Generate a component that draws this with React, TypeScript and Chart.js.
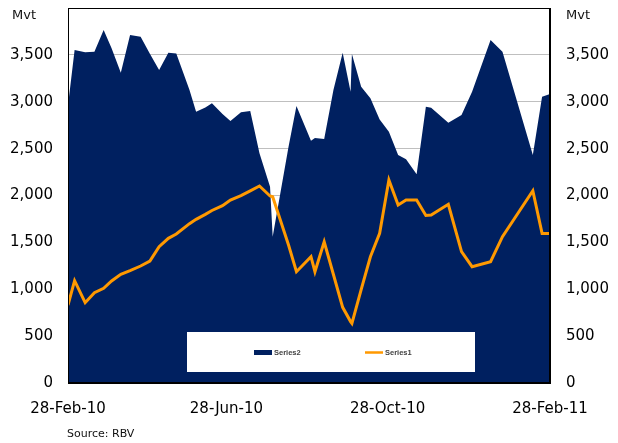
import React, { useEffect, useRef } from 'react';
import { Chart, registerables } from 'chart.js';

Chart.register(...registerables);

// ---- data ----
const DATES = [
  '2010-02-28', '2010-03-05', '2010-03-13', '2010-03-20', '2010-03-27', '2010-04-02',
  '2010-04-09', '2010-04-16', '2010-04-24', '2010-05-01', '2010-05-08', '2010-05-15',
  '2010-05-21', '2010-05-31', '2010-06-05', '2010-06-12', '2010-06-17', '2010-06-25',
  '2010-07-01', '2010-07-09', '2010-07-16', '2010-07-23', '2010-07-31', '2010-08-02',
  '2010-08-14', '2010-08-20', '2010-08-31', '2010-09-03', '2010-09-10', '2010-09-17',
  '2010-09-24', '2010-09-30', '2010-10-01', '2010-10-08', '2010-10-15', '2010-10-22',
  '2010-10-29', '2010-11-05', '2010-11-11', '2010-11-19', '2010-11-26', '2010-11-30',
  '2010-12-13', '2010-12-23', '2010-12-31', '2011-01-14', '2011-01-23', '2011-02-15',
  '2011-02-22', '2011-02-28',
];

const SERIES2 = [
  2960, 3552, 3527, 3534, 3765, 3571,
  3310, 3712, 3694, 3513, 3339, 3523,
  3516, 3125, 2894, 2940, 2985, 2870,
  2795, 2887, 2901, 2450, 2094, 1560,
  2520, 2955, 2585, 2613, 2603, 3125,
  3523, 3108, 3509, 3161, 3037, 2812,
  2681, 2432, 2386, 2226, 2947, 2937,
  2777, 2859, 3108, 3659, 3534, 2432,
  3054, 3083,
];

const SERIES1 = [
  832, 1091, 857, 963, 1010, 1088,
  1159, 1198, 1248, 1301, 1454, 1543,
  1589, 1700, 1746, 1799, 1840, 1891,
  1952, 1998, 2049, 2101, 1995, 1987,
  1472, 1187, 1347, 1187, 1507, 1157,
  807, 655, 636, 997, 1347, 1596,
  2165, 1899, 1952, 1952, 1787, 1792,
  1906, 1401, 1241, 1294, 1561, 2051,
  1596, 1596,
];

const SERIES_NAMES = ['Series2', 'Series1'];
const TICK_DATES = ['2010-02-28', '2010-06-28', '2010-10-28', '2011-02-28'];
const TICK_LABELS = ['28-Feb-10', '28-Jun-10', '28-Oct-10', '28-Feb-11'];
const Y_MIN = 0;
const Y_MAX = 4000;
const Y_STEP = 500;
const UNIT = 'Mvt';
const SOURCE = 'Source: RBV';

// ---- styles ----
const NAVY = '#002060';
const ORANGE = '#FF9900';
const FONT = 'DejaVu Sans';

const BASE = Date.UTC(2010, 1, 28);
const dayOf = (s: string) => {
  const [y, m, d] = s.split('-').map(Number);
  return Math.round((Date.UTC(y, m - 1, d) - BASE) / 86400000);
};

const fmt = (v: number) => (v >= Y_MAX ? '' : Number(v).toLocaleString('en-US'));

const decorPlugin = {
  id: 'decor',
  afterDraw(chart: any) {
    const { ctx, chartArea } = chart;
    ctx.save();
    // legend box
    ctx.fillStyle = '#FFFFFF';
    ctx.fillRect(187, 332, 288, 40);
    ctx.fillStyle = NAVY;
    ctx.fillRect(254, 350, 18, 5);
    ctx.strokeStyle = ORANGE;
    ctx.lineWidth = 2.5;
    ctx.beginPath();
    ctx.moveTo(365, 352.5);
    ctx.lineTo(383, 352.5);
    ctx.stroke();
    ctx.fillStyle = '#404040';
    ctx.font = `bold 7.5px "Liberation Sans"`;
    ctx.textBaseline = 'middle';
    ctx.textAlign = 'left';
    ctx.fillText(SERIES_NAMES[0], 274, 353);
    ctx.fillText(SERIES_NAMES[1], 385, 353);

    // plot border
    ctx.strokeStyle = '#000000';
    ctx.lineWidth = 1;
    const l = Math.round(chartArea.left) + 0.5;
    const t = Math.round(chartArea.top) + 0.5;
    const r = Math.round(chartArea.right) - 0.5;
    const b = Math.round(chartArea.bottom) - 0.5;
    ctx.strokeRect(l, t, r - l, b - t);

    // unit labels
    ctx.fillStyle = '#111111';
    ctx.font = `13px "${FONT}"`;
    ctx.textBaseline = 'middle';
    ctx.textAlign = 'left';
    ctx.fillText(UNIT, 12, 16);
    ctx.fillText(UNIT, 566, 16);

    // source
    ctx.font = `11px "${FONT}"`;
    ctx.fillText(SOURCE, 67, 434);
    ctx.restore();
  },
};

export default function App() {
  const ref = useRef<HTMLCanvasElement | null>(null);

  useEffect(() => {
    if (!ref.current) return;
    const tickFont = { family: FONT, size: 15 };
    const yTicks = {
      stepSize: Y_STEP,
      callback: (v: any) => fmt(v),
      font: tickFont,
      color: '#000000',
      padding: 15,
    };
    const fitY = (scale: any) => {
      scale.width = 68;
      scale.paddingTop = 0;
      scale.paddingBottom = 0;
    };
    const chart = new Chart(ref.current, {
      type: 'line',
      data: {
        datasets: [
          {
            label: SERIES_NAMES[0],
            data: DATES.map((d, i) => ({ x: dayOf(d), y: SERIES2[i] })),
            fill: 'origin',
            backgroundColor: NAVY,
            borderColor: NAVY,
            borderWidth: 0,
            pointRadius: 0,
            tension: 0,
            order: 2,
            yAxisID: 'y',
          },
          {
            label: SERIES_NAMES[1],
            data: DATES.map((d, i) => ({ x: dayOf(d), y: SERIES1[i] })),
            fill: false,
            borderColor: ORANGE,
            backgroundColor: ORANGE,
            borderWidth: 3,
            pointRadius: 0,
            tension: 0,
            borderJoinStyle: 'miter',
            order: 1,
            yAxisID: 'y',
          },
        ],
      },
      options: {
        animation: false,
        responsive: false,
        events: [],
        layout: { padding: { top: 8, bottom: 25, left: 0, right: 0 } },
        plugins: {
          legend: { display: false },
          tooltip: { enabled: false },
        },
        scales: {
          x: {
            type: 'linear',
            min: 0,
            max: dayOf(TICK_DATES[TICK_DATES.length - 1]),
            grid: { display: false, drawTicks: false },
            border: { display: true, color: '#000000' },
            afterBuildTicks: (scale: any) => {
              scale.ticks = TICK_DATES.map((d) => ({ value: dayOf(d) }));
            },
            afterFit: (scale: any) => {
              scale.height = 35;
              scale.paddingLeft = 0;
              scale.paddingRight = 0;
            },
            ticks: {
              callback: (v: any) => {
                const idx = TICK_DATES.findIndex((d) => dayOf(d) === v);
                return idx >= 0 ? TICK_LABELS[idx] : '';
              },
              font: tickFont,
              color: '#000000',
              padding: 17,
              maxRotation: 0,
              autoSkip: false,
            },
          },
          y: {
            position: 'left',
            min: Y_MIN,
            max: Y_MAX,
            ticks: yTicks,
            grid: { color: '#BFBFBF', lineWidth: 1, drawTicks: false },
            border: { display: true, color: '#000000' },
            afterFit: fitY,
          },
          y2: {
            position: 'right',
            min: Y_MIN,
            max: Y_MAX,
            ticks: { ...yTicks, padding: 16 },
            grid: { display: false, drawTicks: false },
            border: { display: true, color: '#000000' },
            afterFit: fitY,
          },
        },
      },
      plugins: [decorPlugin],
    } as any);
    return () => chart.destroy();
  }, []);

  return (
    <div style={{ position: 'fixed', left: 0, top: 0, width: 618, height: 443, background: '#ffffff' }}>
      <canvas ref={ref} width={618} height={443} style={{ width: 618, height: 443, display: 'block' }} />
    </div>
  );
}
